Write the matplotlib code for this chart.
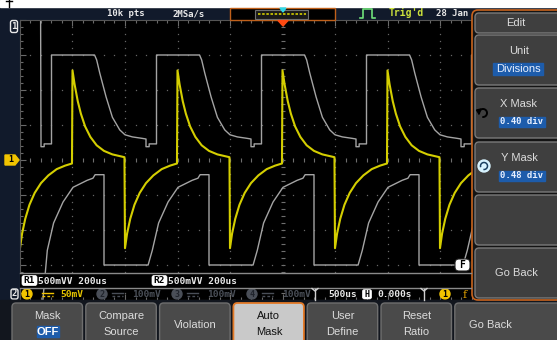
import numpy as np
import matplotlib
matplotlib.use("Agg")
import matplotlib.pyplot as plt
from matplotlib.patches import Rectangle, FancyBboxPatch, Circle, Polygon, Arc

# ---- values: time in us, level in mV (500us/div, 50mV/div) ----
rise_edges_us = [-3000, -2000, -1000, 0, 1000, 2000]
fall_edges_us = [-2500, -1500, -500, 500, 1500, 2500]

# CH1, one period measured from a rising edge
ch1_t = [0, 20, 50, 80, 120, 170, 230, 300, 380, 495,
         500, 520, 550, 590, 640, 700, 770, 850, 930, 995]
ch1_mv = [128, 108, 84, 66, 48, 33, 21, 13, 8, 4,
          -126, -105, -84, -64, -47, -33, -22, -13, -8, -5]

# mask, upper edge, from a rising edge
hi_t = [-300, -270, -270, -200, -200, 210, 230, 260, 320, 380, 450, 500, 570, 660, 700]
hi_mv = [19, 19, 23, 23, 150, 150, 143, 124, 90, 61, 43, 36, 33, 31, 30]

# mask, lower edge, from a falling edge
lo_t = [-200, 220, 260, 320, 410, 505, 640, 695, 715, 800]
lo_mv = [-150, -150, -129, -90, -60, -39, -29, -26, -21, -21]

bottom_buttons = [("Mask", "OFF"), ("Compare", "Source"), ("Violation", None),
                  ("Auto", "Mask"), ("User", "Define"), ("Reset", "Ratio"), ("Go Back", None)]
side_buttons = ["Edit", "Unit", "X Mask", "Y Mask", "", "Go Back"]
side_values = [None, "Divisions", "0.40 div", "0.48 div", None, None]
ch_scales = ["50mV", "100mV", "100mV", "100mV"]
ref_labels = ["R1", "R2"]
ref_text = "500mVV 200us"


def repeat(edges, t, v, t_min):
    xs, ys = [], []
    for e in edges:
        for a, b in zip(t, v):
            if e + a >= t_min:
                xs.append(e + a)
                ys.append(b)
    return xs, ys


W, H = 557, 340
MONO = "DejaVu Sans Mono"
SANS = "Liberation Sans"
NAVY = "#111a2b"

fig = plt.figure(figsize=(W / 100, H / 100), dpi=100)
fig.patch.set_facecolor(NAVY)

# ---- scope graticule ----
ax = fig.add_axes([20 / W, 1 - 300 / H, 525 / W, 280 / H])
ax.set_facecolor("black")
ax.set_xlim(-2500, 2500)
ax.set_ylim(-200, 200)
ax.set_xticks(np.arange(-2500, 2501, 500))
ax.set_yticks(np.arange(-200, 201, 50))
ax.set_xticks(np.arange(-2500, 2501, 100), minor=True)
ax.set_yticks(np.arange(-200, 201, 10), minor=True)
ax.tick_params(which="both", direction="in", color="#6a6a6a", top=True, right=True,
               labelbottom=False, labelleft=False, width=0.8)
ax.tick_params(which="major", length=4)
ax.tick_params(which="minor", length=2)
for s in ax.spines.values():
    s.set_color("#555555")
    s.set_linewidth(0.8)

sub_x = np.arange(-2500, 2501, 100)
sub_y = np.arange(-200, 201, 10)
for x in np.arange(-2000, 2001, 500):
    if x != 0:
        ax.plot(np.full(sub_y.size, x), sub_y, ls="none", marker="s", ms=0.9, mew=0, color="#666666")
for y in np.arange(-150, 151, 50):
    if y != 0:
        ax.plot(sub_x, np.full(sub_x.size, y), ls="none", marker="s", ms=0.9, mew=0, color="#666666")
ax.plot(np.zeros(sub_y.size), sub_y, ls="none", marker="_", ms=3, mew=0.8, color="#6e6e6e")
ax.plot(sub_x, np.zeros(sub_x.size), ls="none", marker="|", ms=3, mew=0.8, color="#6e6e6e")

# mask outline
ux, uy = repeat(rise_edges_us, hi_t, hi_mv, -2300)
ax.plot([-2305] + ux, [260] + uy, color="#a4a4a4", lw=1.0)
lx, ly = repeat(fall_edges_us, lo_t, lo_mv, -2260)
ax.plot([-2300] + lx, [-230] + ly, color="#a4a4a4", lw=1.0)

# CH1 trace
yx, yy = repeat(rise_edges_us, ch1_t, ch1_mv, -2500)
ax.plot(yx, yy, color="#d4ce00", lw=1.5)

# ---- screen furniture, in pixel coordinates ----
ui = fig.add_axes([0, 0, 1, 1], zorder=5)
ui.set_xlim(0, W)
ui.set_ylim(H, 0)
ui.axis("off")
ui.patch.set_alpha(0)


def rbox(x, y, w, h, fc, ec, lw=1.0, r=3):
    ui.add_patch(FancyBboxPatch((x, y), w, h, boxstyle=f"round,pad=0,rounding_size={r}",
                                fc=fc, ec=ec, lw=lw))


def txt(x, y, s, size=6.8, color="#e8e8e8", family=MONO, weight="bold", ha="center"):
    ui.text(x, y, s, fontsize=size, color=color, family=family, weight=weight,
            ha=ha, va="center")


ui.add_patch(Rectangle((0, 0), W, 7, color="white"))
ui.plot([9, 9], [0, 7], color="black", lw=1)
ui.plot([6, 12], [0.5, 0.5], color="black", lw=1)

# top status bar
txt(126, 14, "10k pts", 6.5)
txt(189, 14, "2MSa/s", 6.5)
ui.add_patch(Rectangle((230, 8), 105, 12, fc="black", ec="#c0601a", lw=1))
ui.add_patch(Rectangle((255, 9.5), 53, 9, fc="#1a1a1a", ec="#707070", lw=0.8))
ui.plot([258, 306], [13.5, 13.5], color="#d4ce00", lw=1.2, ls=(0, (1.5, 1)))
ui.add_patch(Polygon([(280, 8), (286, 8), (283, 12)], color="#30d8e8"))
ui.plot([360, 363, 363, 372, 372, 375], [18, 18, 9, 9, 18, 18], color="#6fe07a", lw=1.2)
txt(406, 13, "Trig'd", 7, color="#cce23c")
txt(452, 14, "28 Jan", 6.5, ha="center")
ui.add_patch(Polygon([(278, 20.5), (288, 20.5), (283, 26)], color="#ff4a12"))

# channel markers
rbox(10.5, 20.5, 7, 12, NAVY, "#e8e8e8", lw=1, r=2)
txt(14, 26.5, "1", 6.5)
ui.add_patch(Polygon([(5, 155), (15, 155), (19, 160), (15, 165), (5, 165)], color="#f2c400"))
txt(10.5, 160, "1", 6, color="black")

# reference bar
ui.add_patch(Rectangle((20, 273), 452, 14.5, fc="black", ec="none"))
ui.plot([20, 471], [273, 273], color="#8a8a8a", lw=1)
ui.plot([20, 471], [287.5, 287.5], color="#8a8a8a", lw=1)
for lab, x0 in zip(ref_labels, [22, 152]):
    rbox(x0, 275.5, 15, 10, "white", "white", lw=0.5, r=2)
    txt(x0 + 7.5, 280.5, lab, 6.8, color="black")
    txt(x0 + 16, 281, ref_text, 6.8, ha="left")
rbox(455, 259, 15, 12, "white", "#222222", lw=0.8, r=4)
txt(462.5, 265, "F", 7, color="black")

# channel status row
rbox(11, 289, 7, 10, NAVY, "#e8e8e8", lw=1, r=2)
txt(14.5, 294, "2", 6.5)
for i, scale in enumerate(ch_scales):
    cx = [27, 102, 177, 252][i]
    sym, lab = (15, 33) if i == 0 else (10, 30)
    col = "#f2c400" if i == 0 else "#4a4f58"
    ui.add_patch(Circle((cx, 294), 5, color=col))
    txt(cx, 294.5, str(i + 1), 6, color="black" if i == 0 else "#20242c")
    ui.plot([cx + sym, cx + sym + 11], [292.5, 292.5], color=col, lw=1)
    ui.plot([cx + sym, cx + sym + 11], [295.5, 295.5], color=col, lw=1, ls=(0, (2, 1.5)))
    txt(cx + lab, 294.5, scale, 6.8, color="#e6c400" if i == 0 else "#4a4f58", ha="left")
for bx in [315, 424]:
    ui.plot([bx, bx], [289, 300], color="#cfcfcf", lw=1)
    ui.plot([bx - 3, bx, bx + 3], [288.5, 291, 288.5], color="#cfcfcf", lw=1)
txt(343, 294.5, "500us", 6.8)
rbox(362.5, 289.5, 9, 9.5, "white", "white", lw=0.5, r=2)
txt(367, 294.5, "H", 6, color="black")
txt(395, 294.5, "0.000s", 6.8)
ui.add_patch(Circle((445, 294), 5, color="#f2c400"))
txt(445, 294.5, "1", 6, color="black")
txt(465, 294.5, "f", 8, color="#e0a000", family="DejaVu Serif", weight="normal")

# bottom soft keys
ui.add_patch(Rectangle((0, 300), W, 40, color="#12161e"))
for i, (l1, l2) in enumerate(bottom_buttons):
    x0 = 12 + i * 73.8
    w = 70.5 if i < 6 else 110
    active = l1 == "Auto"
    rbox(x0, 303, w, 45, "#c9c9c9" if active else "#4a4a4a",
         "#e37a28" if active else "#6e6e6e", lw=1.3 if active else 1, r=4)
    tc = "#111111" if active else "#dcdcdc"
    cx = x0 + 35.5
    if l2 is None:
        txt(cx, 325, l1, 8, color=tc, family=SANS, weight="normal")
    else:
        txt(cx, 316, l1, 8, color=tc, family=SANS, weight="normal")
        if l2 == "OFF":
            ui.add_patch(Rectangle((cx - 11, 326), 22, 11, color="#1d5cab"))
            txt(cx, 332, l2, 8, color="white", family=SANS, weight="bold")
        else:
            txt(cx, 332, l2, 8, color=tc, family=SANS, weight="normal")

# side menu
ui.add_patch(FancyBboxPatch((472, 10), 100, 290, boxstyle="round,pad=0,rounding_size=6",
                            fc="#141414", ec="#c8641e", lw=1.2))
side_y = [(13, 20), (35, 50), (88, 50), (142, 50), (195, 50), (248, 50)]
for (y0, h), lab, val in zip(side_y, side_buttons, side_values):
    rbox(475, y0, 90, h, "#3f3f3f", "#7a7a7a", lw=1, r=4)
    if val is None:
        txt(516, y0 + h / 2, lab, 8, color="#dcdcdc", family=SANS, weight="normal")
    else:
        txt(519, y0 + 16, lab, 8, color="#dcdcdc", family=SANS, weight="normal")
        if val == "Divisions":
            ui.add_patch(Rectangle((493, y0 + 28), 50, 12, color="#1d5cab"))
            txt(518, y0 + 34, val, 8, color="#e8f0ff", family=SANS, weight="normal")
        else:
            ui.add_patch(Rectangle((499, y0 + 29), 46, 10, color="#1d5cab"))
            txt(522, y0 + 34, val, 6.5, color="#e8f0ff")
ui.add_patch(Arc((483, 113), 8, 8, theta1=-200, theta2=100, ec="black", lw=1.4))
ui.add_patch(Polygon([(476.5, 110), (481, 109), (479, 114)], color="black"))
ui.add_patch(Circle((484, 166), 6, color="#d8f4ff"))
ui.add_patch(Arc((484, 166), 7, 7, theta1=-200, theta2=100, ec="#1a4060", lw=1.1))

fig.savefig("out.png", dpi=100, facecolor=fig.get_facecolor())
